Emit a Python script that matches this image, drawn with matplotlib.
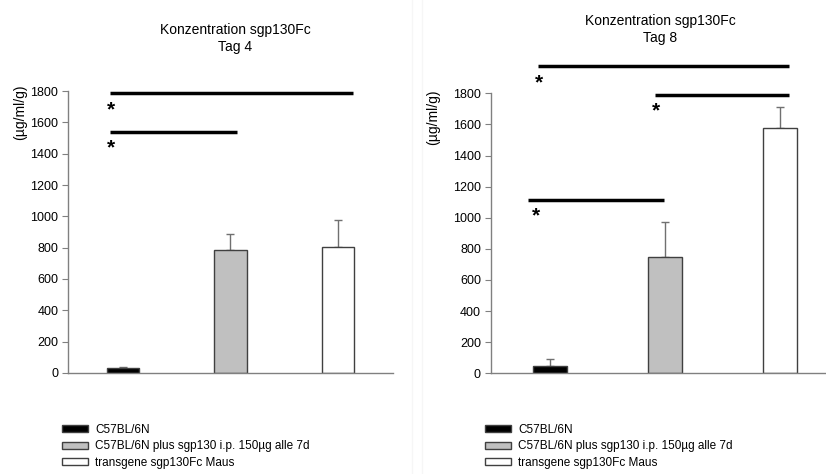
import numpy as np
import matplotlib
matplotlib.use("Agg")
import matplotlib.pyplot as plt
from matplotlib.patches import Patch
from matplotlib.lines import Line2D

plt.rcParams['font.family'] = ['Liberation Sans', 'DejaVu Sans']

groups = ['C57BL/6N', 'C57BL/6N plus sgp130 i.p. 150µg alle 7d', 'transgene sgp130Fc Maus']
colors = ['#000000', '#c0c0c0', '#ffffff']

# Tag 4
tag4_mean = [35, 785, 805]
tag4_err = [5, 100, 170]
tag4_sig = [(-0.12, 2.14, 1785), (-0.12, 1.06, 1540)]
tag4_star = [(-0.11, 1680), (-0.11, 1440)]

# Tag 8
tag8_mean = [47, 745, 1580]
tag8_err = [45, 225, 130]
tag8_sig = [(-0.10, 2.08, 1975), (0.91, 2.08, 1787), (-0.19, 0.99, 1113)]
tag8_star = [(-0.10, 1868), (0.92, 1685), (-0.12, 1011)]

fig = plt.figure(figsize=(8.26, 4.74), dpi=100)

def panel(rect, xlim, means, errs, sigs, stars, title, title_xy, ylab_xy):
    ax = fig.add_axes(rect)
    x = np.arange(len(means))
    ax.bar(x, means, width=0.3, color=colors, edgecolor='#404040', linewidth=1, zorder=2)
    ax.errorbar(x, means, yerr=[np.zeros(len(errs)), errs], fmt='none',
                ecolor='#707070', elinewidth=1, capsize=3, capthick=1, zorder=1)
    for x0, x1, y in sigs:
        ax.plot([x0, x1], [y, y], color='black', lw=2.5, clip_on=False, solid_capstyle='butt')
    for sx, sy in stars:
        ax.text(sx, sy, '*', fontsize=15, fontweight='bold', ha='center', va='center', clip_on=False)
    ax.set_xlim(*xlim)
    ax.set_ylim(0, 1800)
    ax.set_yticks(np.arange(0, 1801, 200))
    ax.set_xticks([])
    for s in ['top', 'right']:
        ax.spines[s].set_visible(False)
    for s in ['left', 'bottom']:
        ax.spines[s].set_color('#808080')
        ax.spines[s].set_linewidth(1)
    ax.tick_params(axis='y', direction='out', length=4, color='#808080', labelsize=9, pad=3)
    fig.text(title_xy[0], title_xy[1], title, ha='center', va='top', fontsize=10, linespacing=1.3)
    fig.text(ylab_xy[0], ylab_xy[1], '(µg/ml/g)', rotation=90, ha='center', va='center', fontsize=10)
    return ax

ax1 = panel([0.0823, 0.2131, 0.3935, 0.5949], (-0.51, 2.51), tag4_mean, tag4_err, tag4_sig, tag4_star,
            'Konzentration sgp130Fc\nTag 4', (235 / 826, 1 - 23 / 474), (20 / 826, 1 - 112 / 474))
ax2 = panel([0.594, 0.2124, 0.406, 0.5907], (-0.516, 2.40), tag8_mean, tag8_err, tag8_sig, tag8_star,
            'Konzentration sgp130Fc\nTag 8', (660 / 826, 1 - 14 / 474), (433 / 826, 1 - 117 / 474))

# faint panel separators
fig.add_artist(Line2D([412 / 826, 412 / 826], [0, 1], color='#f6f6f6', lw=1))
fig.add_artist(Line2D([422 / 826, 422 / 826], [0, 1], color='#f6f6f6', lw=1))

handles = [Patch(facecolor=c, edgecolor='#404040', linewidth=1) for c in colors]
for xa in [62 / 826, 485 / 826]:
    fig.legend(handles, groups, loc='upper left', bbox_to_anchor=(xa, 1 - 424 / 474), frameon=False,
               fontsize=8.5, handlelength=2.2, handleheight=0.55, labelspacing=0.38, handletextpad=0.6,
               borderpad=0, borderaxespad=0)

fig.savefig('out.png', dpi=100)
